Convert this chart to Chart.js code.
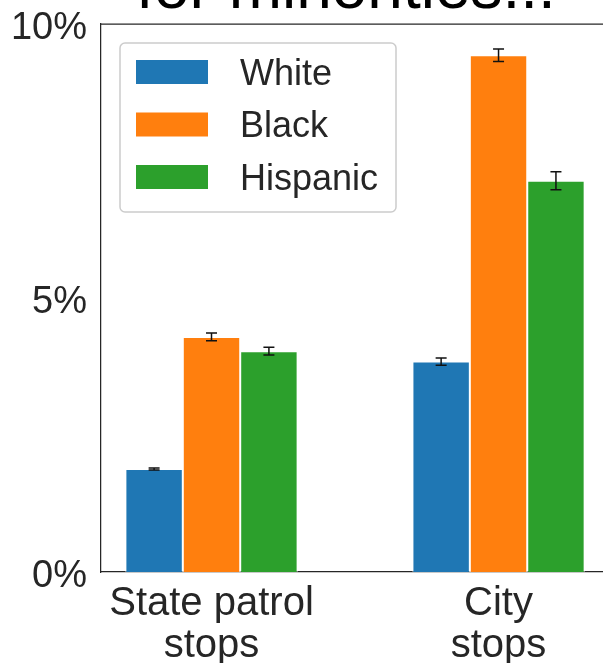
<!DOCTYPE html>
<html>
<head>
<meta charset="utf-8">
<script src="https://cdn.jsdelivr.net/npm/chart.js@4/dist/chart.umd.min.js"></script>
<style>
  html, body { margin: 0; padding: 0; overflow: hidden; background: #fff; }
  body { width: 603px; height: 663px; position: relative; }
  #wrap { position: absolute; left: 0; top: -42px; width: 692px; height: 706px; }
</style>
</head>
<body>
<div id="wrap"><canvas id="chart"></canvas></div>
<script>
const categories = [['State patrol', 'stops'], ['City', 'stops']];
const groups = ['White', 'Black', 'Hispanic'];
const white = [1.88, 3.84];
const black = [4.29, 9.43];
const hispanic = [4.03, 7.14];
const whiteErr = [0.02, 0.067];
const blackErr = [0.07, 0.115];
const hispanicErr = [0.07, 0.165];
const yTicks = [0, 5, 10];

const colors = ['#1f77b4', '#ff7f0e', '#2ca02c'];
const series = [white, black, hispanic];
const errors = [whiteErr, blackErr, hispanicErr];
const ink = '#262626';

Chart.defaults.font.family = "'Liberation Sans', Arial, sans-serif";
Chart.defaults.color = ink;

// matplotlib style error bars with caps
const errorBars = {
  id: 'errorBars',
  afterDatasetsDraw(chart) {
    const ctx = chart.ctx;
    const y = chart.scales.y;
    ctx.save();
    ctx.strokeStyle = '#111';
    ctx.lineWidth = 1.5;
    chart.data.datasets.forEach((ds, i) => {
      chart.getDatasetMeta(i).data.forEach((bar, j) => {
        const v = ds.data[j].y, e = ds.errors[j];
        const top = y.getPixelForValue(v + e);
        const bot = y.getPixelForValue(v - e);
        ctx.beginPath();
        ctx.moveTo(bar.x, top); ctx.lineTo(bar.x, bot);
        ctx.moveTo(bar.x - 5.5, top); ctx.lineTo(bar.x + 5.5, top);
        ctx.moveTo(bar.x - 5.5, bot); ctx.lineTo(bar.x + 5.5, bot);
        ctx.stroke();
      });
    });
    ctx.restore();
  }
};

// top spine
const topSpine = {
  id: 'topSpine',
  afterDraw(chart) {
    const {ctx, chartArea} = chart;
    ctx.save();
    ctx.strokeStyle = ink;
    ctx.lineWidth = 1.25;
    ctx.beginPath();
    ctx.moveTo(chartArea.left, chartArea.top);
    ctx.lineTo(chartArea.right, chartArea.top);
    ctx.stroke();
    ctx.restore();
  }
};

// legend box in upper left of the axes
const boxLegend = {
  id: 'boxLegend',
  afterDraw(chart) {
    const {ctx, chartArea} = chart;
    const left = chartArea.left + 19, top = chartArea.top + 19;
    ctx.save();
    ctx.beginPath();
    ctx.roundRect(left, top, 276, 169, 5);
    ctx.fillStyle = 'rgba(255,255,255,0.8)';
    ctx.fill();
    ctx.strokeStyle = '#cccccc';
    ctx.lineWidth = 1.5;
    ctx.stroke();
    ctx.font = "36px 'Liberation Sans', Arial, sans-serif";
    ctx.textBaseline = 'alphabetic';
    chart.data.datasets.forEach((ds, i) => {
      const cy = top + 29 + i * 52.5;
      ctx.fillStyle = ds.backgroundColor;
      ctx.fillRect(left + 16, cy - 12, 72, 24);
      ctx.fillStyle = ink;
      ctx.fillText(ds.label, left + 120, cy + 12.5);
    });
    ctx.restore();
  }
};

new Chart(document.getElementById('chart'), {
  type: 'bar',
  data: {
    datasets: groups.map((g, i) => ({
      label: g,
      data: series[i].map((v, j) => ({x: j, y: v})),
      errors: errors[i],
      backgroundColor: colors[i],
      borderColor: '#ffffff',
      borderWidth: 1,
      categoryPercentage: 0.6,
      barPercentage: 1
    }))
  },
  options: {
    responsive: true,
    maintainAspectRatio: false,
    animation: false,
    layout: { padding: 0 },
    plugins: {
      legend: { display: false },
      tooltip: { enabled: false },
      title: {
        display: true,
        text: 'for minorities...',
        color: '#000',
        font: { size: 64, weight: 'normal', lineHeight: 1 },
        padding: { top: 0, bottom: 2 }
      }
    },
    scales: {
      x: {
        type: 'linear',
        offset: false,
        min: -0.385,
        max: 1.674,
        grid: { display: false, drawTicks: false },
        border: { display: true, color: ink, width: 1.25 },
        afterBuildTicks: (s) => { s.ticks = categories.map((c, i) => ({value: i})); },
        afterFit: (s) => { s.height = 92; },
        ticks: {
          padding: 11,
          color: ink,
          maxRotation: 0,
          font: { size: 40, lineHeight: 1.05 },
          callback: (v) => categories[v]
        }
      },
      y: {
        min: 0,
        max: 10,
        grid: { display: false, drawTicks: false },
        border: { display: true, color: ink, width: 1.25 },
        afterBuildTicks: (s) => { s.ticks = yTicks.map(v => ({value: v})); },
        afterFit: (s) => { s.width = 101; },
        ticks: {
          padding: 14,
          labelOffset: 5,
          color: ink,
          font: { size: 38 },
          callback: (v) => v + '%'
        }
      }
    }
  },
  plugins: [errorBars, topSpine, boxLegend]
});
</script>
</body>
</html>
